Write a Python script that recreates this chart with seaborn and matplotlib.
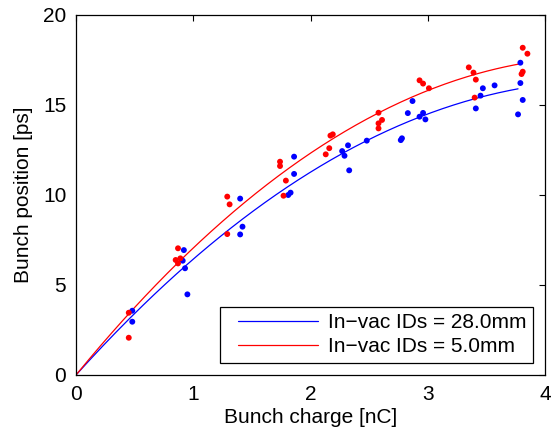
import numpy as np
import pandas as pd
import matplotlib
matplotlib.use("Agg")
import matplotlib.pyplot as plt
from matplotlib.legend_handler import HandlerLine2D
from matplotlib.lines import Line2D
import seaborn as sns

# Data
blue_x = [0.48, 0.48, 0.92, 0.91, 0.93, 0.95, 1.40, 1.40, 1.42, 1.81, 1.83, 1.86, 1.86,
          2.27, 2.29, 2.32, 2.33, 2.48, 2.77, 2.78, 2.83, 2.87, 2.93, 2.96, 2.98,
          3.41, 3.45, 3.47, 3.57, 3.77, 3.79, 3.79, 3.81]
blue_y = [3.57, 2.96, 6.94, 6.35, 5.93, 4.48, 9.80, 7.81, 8.24, 10.0, 10.13, 12.13, 11.17,
          12.44, 12.18, 12.76, 11.37, 13.02, 13.05, 13.15, 14.55, 15.22, 14.35, 14.56, 14.2,
          14.81, 15.52, 15.93, 16.09, 14.48, 17.35, 16.22, 15.28]
red_x = [0.45, 0.45, 0.87, 0.85, 0.89, 0.87, 1.29, 1.29, 1.31, 1.74, 1.74, 1.79, 1.77,
         2.17, 2.19, 2.16, 2.13, 2.58, 2.61, 2.58, 2.58, 2.93, 2.96, 3.01,
         3.35, 3.39, 3.41, 3.40, 3.81, 3.85, 3.81, 3.80]
red_y = [3.46, 2.07, 7.04, 6.39, 6.48, 6.2, 7.83, 9.91, 9.48, 11.85, 11.61, 10.8, 9.96,
         13.3, 13.37, 12.6, 12.26, 14.57, 14.17, 13.98, 13.7, 16.37, 16.19, 15.93,
         17.09, 16.8, 16.41, 15.41, 18.18, 17.85, 16.85, 16.72]

# Quadratic fit coefficients (y = a*x + b*x^2)
fit_blue = [7.237, -0.801]
fit_red = [7.95, -0.894]
fit_xmax = 3.77

labels = ["In\u2212vac IDs = 28.0mm", "In\u2212vac IDs = 5.0mm"]
xticks = [0, 1, 2, 3, 4]
yticks = [0, 5, 10, 15, 20]

sns.set_style("white")
plt.rcParams["font.family"] = ["Liberation Sans", "DejaVu Sans"]
plt.rcParams["text.color"] = "black"
plt.rcParams["axes.labelcolor"] = "black"
plt.rcParams["xtick.color"] = "black"
plt.rcParams["ytick.color"] = "black"
FS = 15

fig = plt.figure(figsize=(5.51, 4.37), dpi=100)
ax = fig.add_axes([76/551, 62/437, (545-76)/551, (375-15)/437])

xx = np.linspace(0, fit_xmax, 200)
curves = pd.DataFrame({
    "x": np.concatenate([xx, xx]),
    "y": np.concatenate([fit_blue[0]*xx + fit_blue[1]*xx**2,
                         fit_red[0]*xx + fit_red[1]*xx**2]),
    "s": [labels[0]]*len(xx) + [labels[1]]*len(xx),
})
pts = pd.DataFrame({
    "x": blue_x + red_x,
    "y": blue_y + red_y,
    "s": [labels[0]]*len(blue_x) + [labels[1]]*len(red_x),
})
pal = {labels[0]: "#0000ff", labels[1]: "#ff0000"}

sns.scatterplot(data=pts, x="x", y="y", hue="s", palette=pal, s=18,
                edgecolor="none", legend=False, ax=ax, zorder=3)
sns.lineplot(data=curves, x="x", y="y", hue="s", palette=pal, linewidth=0.9,
             ax=ax, sort=False, estimator=None, zorder=2)

ax.set_xlim(0, 4)
ax.set_ylim(0, 20)
ax.set_xticks(xticks)
ax.set_yticks(yticks)
ax.set_xticklabels([str(t) for t in xticks])
ax.set_yticklabels([str(t) for t in yticks])
ax.set_xlabel("Bunch charge [nC]", fontsize=FS, labelpad=3, color="black")
ax.set_ylabel("Bunch position [ps]", fontsize=FS, labelpad=7, color="black")
ax.tick_params(direction="in", length=4, width=0.8, top=True, right=True,
               labelsize=FS, color="black", labelcolor="black", pad=7)
for sp in ax.spines.values():
    sp.set_visible(True)
    sp.set_color("black")
    sp.set_linewidth(0.9)

handles, labs = ax.get_legend_handles_labels()
leg = ax.legend(handles, labs, loc="lower right", fontsize=FS, frameon=True,
                fancybox=False, edgecolor="black", framealpha=1,
                handlelength=4.9, handletextpad=-0.05, numpoints=2,
                handler_map={Line2D: HandlerLine2D(marker_pad=0.54, numpoints=2)},
                borderaxespad=0.6, borderpad=0.3, labelspacing=0.25)
leg.get_frame().set_linewidth(0.9)
for t in leg.get_texts():
    t.set_color("black")

fig.savefig("out.png", dpi=100)
